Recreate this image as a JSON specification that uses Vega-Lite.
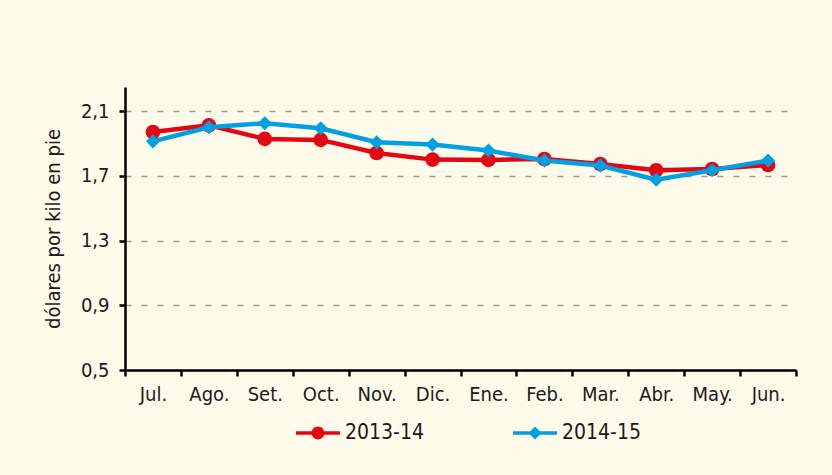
{
  "$schema": "https://vega.github.io/schema/vega-lite/v6.json",
  "width": 671,
  "height": 283,
  "autosize": {"type": "none"},
  "padding": {"left": 125, "top": 87, "right": 36, "bottom": 105},
  "background": "#FFFBEA",
  "config": {
    "view": {"stroke": null},
    "font": "DejaVu Sans Condensed, Roboto, sans-serif",
    "legend": {"symbolStrokeWidth": 0}
  },
  "data": {
    "values": [
      {"mes": "Jul.", "serie": "2013-14", "valor": 1.972},
      {"mes": "Ago.", "serie": "2013-14", "valor": 2.013},
      {"mes": "Set.", "serie": "2013-14", "valor": 1.929},
      {"mes": "Oct.", "serie": "2013-14", "valor": 1.923},
      {"mes": "Nov.", "serie": "2013-14", "valor": 1.842},
      {"mes": "Dic.", "serie": "2013-14", "valor": 1.801},
      {"mes": "Ene.", "serie": "2013-14", "valor": 1.799},
      {"mes": "Feb.", "serie": "2013-14", "valor": 1.805},
      {"mes": "Mar.", "serie": "2013-14", "valor": 1.774},
      {"mes": "Abr.", "serie": "2013-14", "valor": 1.735},
      {"mes": "May.", "serie": "2013-14", "valor": 1.743},
      {"mes": "Jun.", "serie": "2013-14", "valor": 1.768},
      {"mes": "Jul.", "serie": "2014-15", "valor": 1.914},
      {"mes": "Ago.", "serie": "2014-15", "valor": 2.001},
      {"mes": "Set.", "serie": "2014-15", "valor": 2.026},
      {"mes": "Oct.", "serie": "2014-15", "valor": 1.995},
      {"mes": "Nov.", "serie": "2014-15", "valor": 1.908},
      {"mes": "Dic.", "serie": "2014-15", "valor": 1.894},
      {"mes": "Ene.", "serie": "2014-15", "valor": 1.857},
      {"mes": "Feb.", "serie": "2014-15", "valor": 1.795},
      {"mes": "Mar.", "serie": "2014-15", "valor": 1.764},
      {"mes": "Abr.", "serie": "2014-15", "valor": 1.677},
      {"mes": "May.", "serie": "2014-15", "valor": 1.735},
      {"mes": "Jun.", "serie": "2014-15", "valor": 1.795}
    ]
  },
  "encoding": {
    "x": {
      "field": "mes",
      "type": "ordinal",
      "sort": ["Jul.", "Ago.", "Set.", "Oct.", "Nov.", "Dic.", "Ene.", "Feb.", "Mar.", "Abr.", "May.", "Jun."],
      "scale": {"type": "band", "paddingInner": 0, "paddingOuter": 0},
      "axis": {
        "title": null,
        "labelAngle": 0,
        "labelFontSize": 20,
        "labelColor": "#1a1a1a",
        "labelPadding": 8,
        "domainColor": "#000000",
        "domainWidth": 2.5,
        "tickColor": "#000000",
        "tickWidth": 2.5,
        "tickSize": 6,
        "tickBand": "extent",
        "grid": false
      }
    },
    "y": {
      "field": "valor",
      "type": "quantitative",
      "scale": {"domain": [0.5, 2.25], "nice": false, "zero": false},
      "axis": {
        "title": "dólares por kilo en pie",
        "values": [0.5, 0.9, 1.3, 1.7, 2.1],
        "labelExpr": "replace(format(datum.value, '.1f'), '.', ',')",
        "labelFontSize": 20,
        "labelColor": "#1a1a1a",
        "labelPadding": 10,
        "domainColor": "#000000",
        "domainWidth": 2.5,
        "tickColor": "#000000",
        "tickWidth": 2.5,
        "tickSize": 6,
        "grid": true,
        "gridColor": "#9a9a9a",
        "gridDash": [6, 10],
        "gridWidth": 1.5,
        "titleFontSize": 20,
        "titleFontWeight": "normal",
        "titleColor": "#1a1a1a",
        "titlePadding": 17
      }
    },
    "color": {
      "field": "serie",
      "type": "nominal",
      "scale": {"domain": ["2013-14", "2014-15"], "range": ["#E30613", "#00A0E3"]},
      "legend": {
        "orient": "none",
        "legendX": 171,
        "legendY": 324,
        "direction": "horizontal",
        "title": null,
        "symbolSize": 1936,
        "labelFontSize": 21,
        "labelColor": "#1a1a1a",
        "labelOffset": 5,
        "columnPadding": 89,
        "encode": {
          "symbols": {
            "update": {
              "shape": {"signal": "datum.value === '2013-14' ? 'M-1,-0.075H1V0.075H-1Z M-0.29,0A0.29,0.29 0 1,1 0.29,0A0.29,0.29 0 1,1 -0.29,0Z' : 'M-1,-0.075H1V0.075H-1Z M0,-0.3L0.3,0L0,0.3L-0.3,0Z'"},
              "fill": {"signal": "datum.value === '2013-14' ? '#E30613' : '#00A0E3'"},
              "fillOpacity": {"value": 1},
              "opacity": {"value": 1},
              "strokeWidth": {"value": 0}
            }
          }
        }
      }
    }
  },
  "layer": [
    {
      "transform": [{"filter": "datum.serie === '2013-14'"}],
      "mark": {"type": "line", "strokeWidth": 4.5}
    },
    {
      "transform": [{"filter": "datum.serie === '2013-14'"}],
      "mark": {"type": "point", "shape": "circle", "filled": true, "opacity": 1, "size": 215}
    },
    {
      "transform": [{"filter": "datum.serie === '2014-15'"}],
      "mark": {"type": "line", "strokeWidth": 4.5}
    },
    {
      "transform": [{"filter": "datum.serie === '2014-15'"}],
      "mark": {"type": "point", "shape": "diamond", "filled": true, "opacity": 1, "size": 200}
    }
  ]
}
